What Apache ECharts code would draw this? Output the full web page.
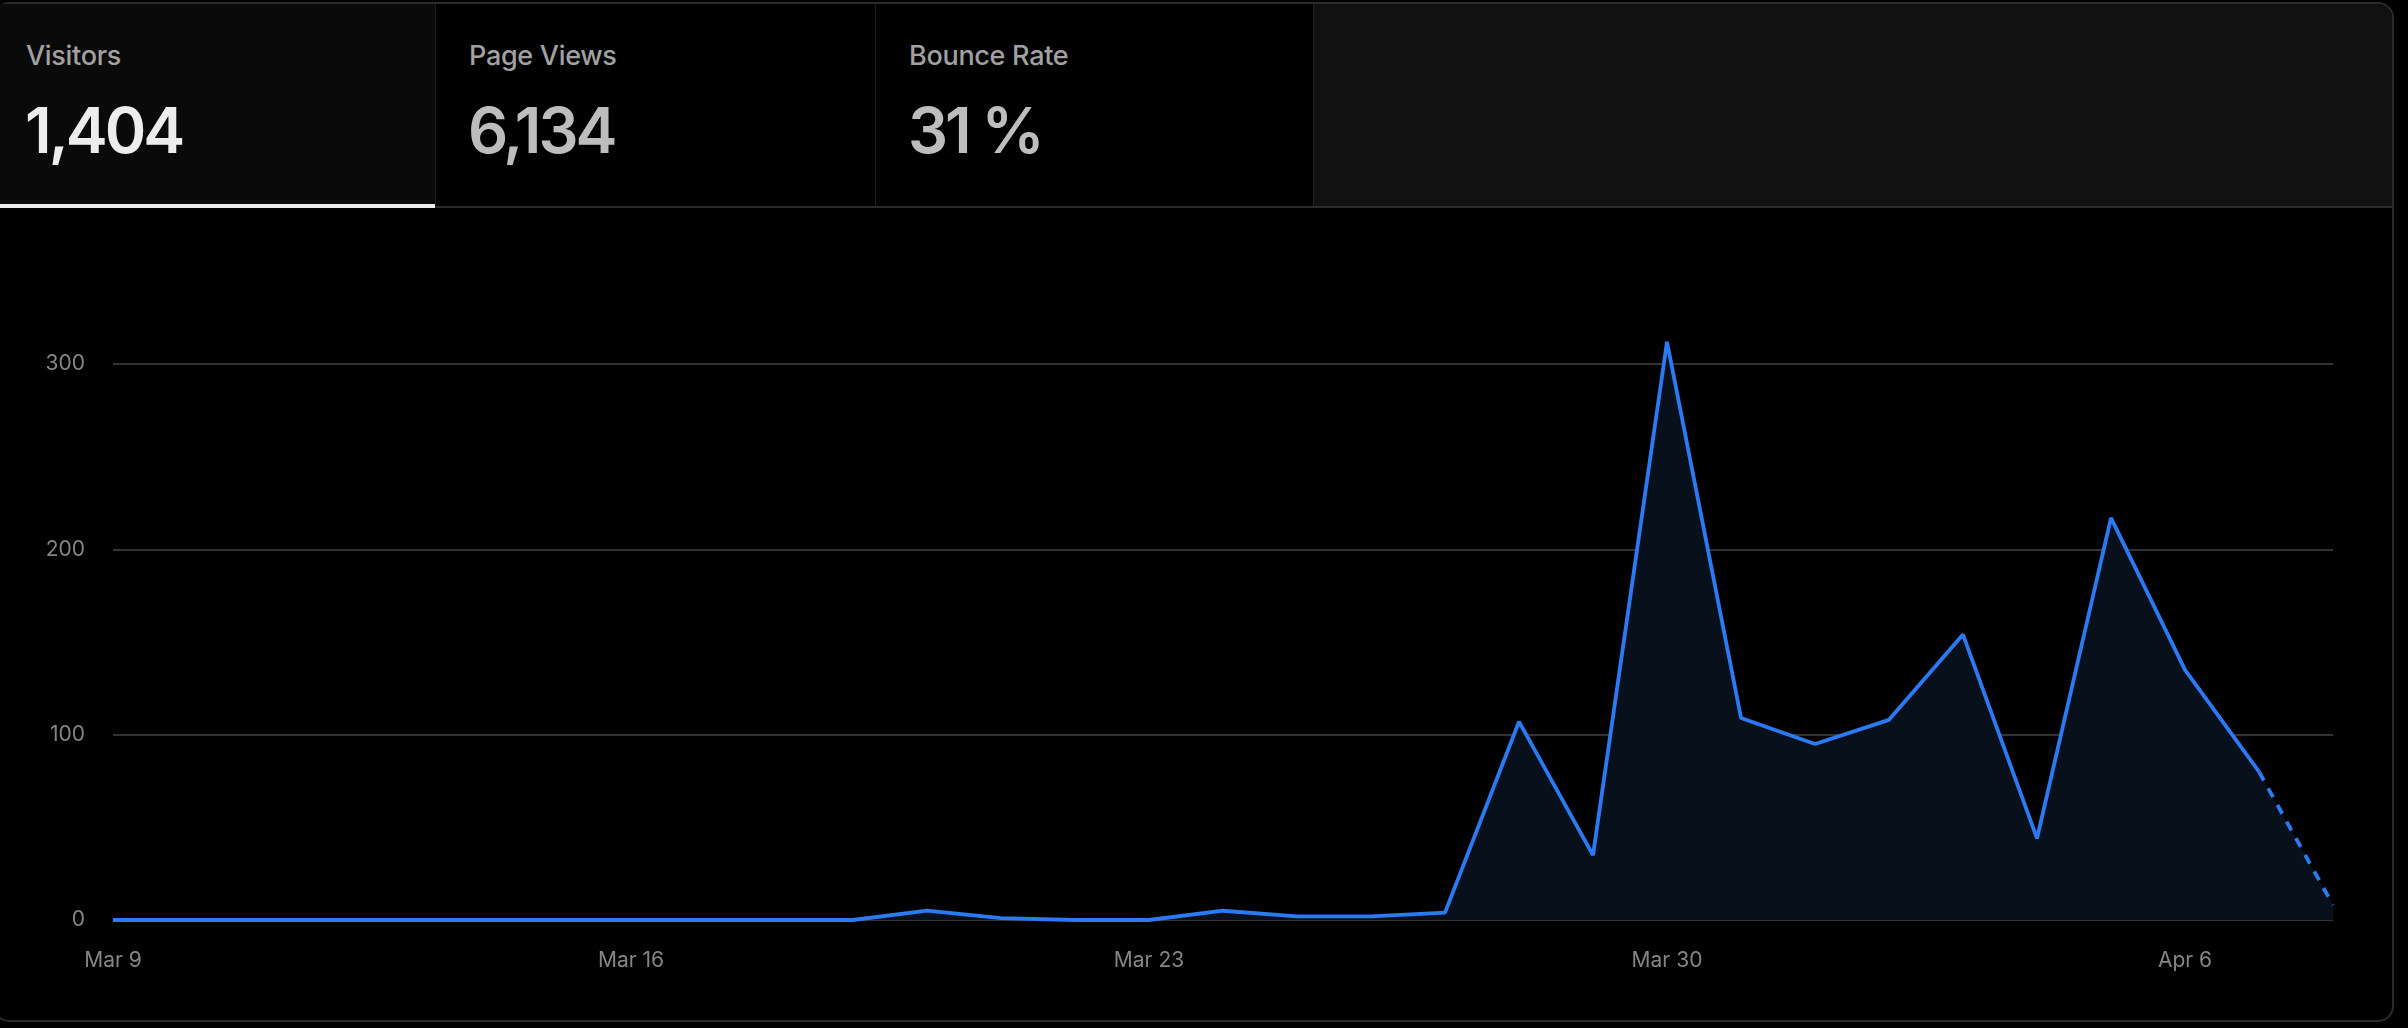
<!DOCTYPE html>
<html>
<head>
<meta charset="utf-8">
<title>Visitors</title>
<script src="https://cdn.jsdelivr.net/npm/echarts@6/dist/echarts.min.js"></script>
<style>
    html, body { margin: 0; padding: 0; width: 2408px; height: 1028px; background: #000; overflow: hidden; }
    body { position: relative; font-family: Inter, "Noto Sans", sans-serif; }
    .card { position: absolute; left: -7px; top: 2px; width: 2401px; height: 1020px; box-sizing: border-box;
            border: 2px solid #2b2b2b; border-radius: 16px; background: #000; }
    .tab { position: absolute; top: 4px; height: 204px; box-sizing: border-box; }
    .tab-label { position: absolute; left: 33px; top: 38px; font-size: 27px; line-height: 1; font-weight: 500; color: #a1a1a1; letter-spacing: -0.3px; }
    .tab-value { position: absolute; left: 32px; top: 95px; font-size: 63px; line-height: 1; font-weight: 600; color: #bdbdbd; letter-spacing: -3px; }
    .row-line { position: absolute; left: 0; top: 206px; width: 2392px; height: 2px; background: #2b2b2b; }
    #chart { position: absolute; left: 0; top: 209px; width: 2408px; height: 811px; }
</style>
</head>
<body>
<div class="card"></div>
<div class="tab" style="left:-7px;width:442px;background:#0a0a0a;">
    <div class="tab-label">Visitors</div>
    <div class="tab-value" style="color:#ededed;">1,404</div>
</div>
<div class="tab" style="left:435px;width:440px;border-left:1px solid #1c1c1c;">
    <div class="tab-label">Page Views</div>
    <div class="tab-value">6,134</div>
</div>
<div class="tab" style="left:875px;width:438px;border-left:1px solid #1c1c1c;">
    <div class="tab-label">Bounce Rate</div>
    <div class="tab-value">31 %</div>
</div>
<div class="tab" style="left:1313px;width:1079px;background:#111;border-left:1px solid #222;border-top-right-radius:14px;"></div>
<div class="row-line"></div>
<div style="position:absolute;left:0;top:204px;width:435px;height:4px;background:#ededed;"></div>
<div id="chart"></div>

<script>
// daily visitors, Mar 9 - Apr 8
var days = ['Mar 9', 'Mar 10', 'Mar 11', 'Mar 12', 'Mar 13', 'Mar 14', 'Mar 15',
    'Mar 16', 'Mar 17', 'Mar 18', 'Mar 19', 'Mar 20', 'Mar 21', 'Mar 22',
    'Mar 23', 'Mar 24', 'Mar 25', 'Mar 26', 'Mar 27', 'Mar 28', 'Mar 29',
    'Mar 30', 'Mar 31', 'Apr 1', 'Apr 2', 'Apr 3', 'Apr 4', 'Apr 5',
    'Apr 6', 'Apr 7', 'Apr 8'];

var visitors = [0, 0, 0, 0, 0, 0, 0,
    0, 0, 0, 0, 5, 1, 0,
    0, 5, 2, 2, 4, 107, 35,
    312, 109, 95, 108, 154, 44, 217,
    135, 80, 8];

var yTicks = [0, 100, 200, 300];

// last day is still in progress -> dashed
var last = visitors.length - 1;
var solid = visitors.map(function(v, i) { return i < last ? v : null; });
var partial = visitors.map(function(v, i) { return i >= last - 1 ? v : null; });

var lineColor = '#2a7af4';
var areaColor = '#08101c';

var chart = echarts.init(document.getElementById('chart'));

chart.setOption({
    animation: false,
    backgroundColor: 'transparent',
    grid: {
        left: 113,
        right: 75,
        top: 155,
        bottom: 100
    },
    xAxis: {
        type: 'category',
        data: days,
        boundaryGap: false,
        axisLine: { show: false },
        axisTick: { show: false },
        axisLabel: {
            interval: 6,
            margin: 30,
            color: '#858585',
            fontSize: 21,
            fontFamily: 'Inter'
        },
        splitLine: { show: false }
    },
    yAxis: {
        type: 'value',
        min: yTicks[0],
        max: yTicks[yTicks.length - 1],
        interval: 100,
        axisLine: { show: false },
        axisTick: { show: false },
        axisLabel: {
            margin: 28,
            color: '#858585',
            fontSize: 21,
            fontFamily: 'Inter'
        },
        splitLine: {
            lineStyle: { color: '#333333', width: 2 }
        }
    },
    series: [{
            name: 'Visitors',
            type: 'line',
            data: solid,
            clip: false,
            symbol: 'none',
            lineStyle: { color: lineColor, width: 3.8 },
            areaStyle: { color: areaColor, opacity: 1 },
            z: 3
        },
        {
            name: 'Visitors (today)',
            type: 'line',
            data: partial,
            clip: false,
            symbol: 'none',
            lineStyle: { color: lineColor, width: 3.8, type: [10, 9] },
            areaStyle: { color: areaColor, opacity: 1 },
            z: 3
        }
    ]
});
</script>
</body>
</html>
